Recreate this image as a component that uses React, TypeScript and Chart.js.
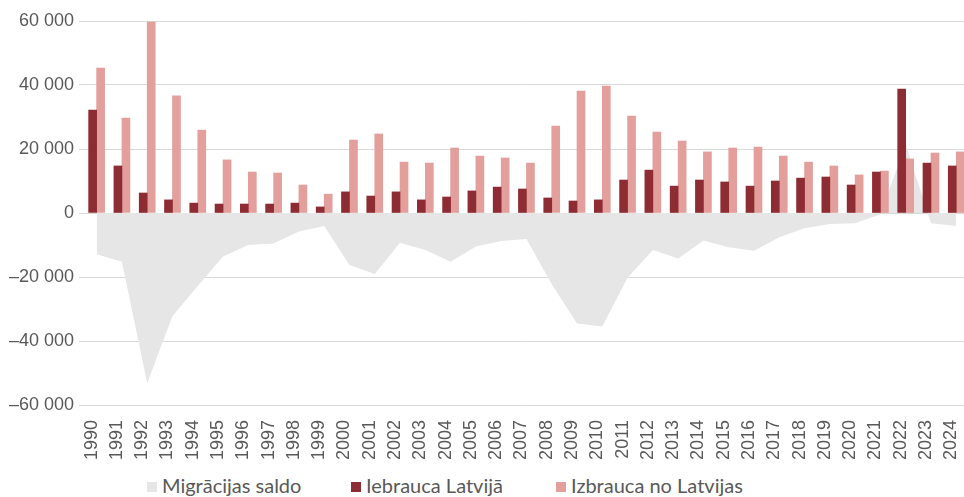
import React, { useEffect, useRef } from "react";
import { Chart, registerables } from "chart.js";

Chart.register(...registerables);

const years = [
  "1990", "1991", "1992", "1993", "1994", "1995", "1996", "1997", "1998", "1999",
  "2000", "2001", "2002", "2003", "2004", "2005", "2006", "2007", "2008", "2009",
  "2010", "2011", "2012", "2013", "2014", "2015", "2016", "2017", "2018", "2019",
  "2020", "2021", "2022", "2023", "2024",
];

const iebrauca = [
  32200, 14700, 6250, 4100, 3100, 2800, 2800, 2800, 3100, 1900,
  6600, 5300, 6600, 4100, 5000, 6900, 8100, 7500, 4700, 3750,
  4100, 10300, 13400, 8400, 10300, 9700, 8400, 10000, 10900, 11250,
  8750, 12800, 38750, 15600, 14700,
];

const izbrauca = [
  45300, 29700, 59700, 36600, 25900, 16600, 12800, 12500, 8750, 5900,
  22800, 24700, 15900, 15600, 20300, 17800, 17200, 15600, 27200, 38100,
  39700, 30300, 25300, 22500, 19100, 20300, 20600, 17800, 15900, 14700,
  11900, 13100, 16900, 18750, 19100,
];

const saldo = [
  -12900, -15200, -53200, -32200, -22800, -13600, -10000, -9500, -5800, -4100,
  -16250, -19100, -9300, -11600, -15200, -10500, -8750, -8100, -22300, -34500,
  -35500, -20200, -11600, -14200, -8600, -10700, -11800, -7600, -4800, -3400,
  -3200, -400, 21500, -3200, -4100,
];

const seriesNames = ["Migrācijas saldo", "Iebrauca Latvijā", "Izbrauca no Latvijas"];
const colors = ["#E6E6E6", "#8E2C33", "#E29F9C"];

const yMin = -60000;
const yMax = 60000;
const yStep = 20000;

function fmt(v: number): string {
  const abs = Math.abs(v);
  const s = String(abs).replace(/\B(?=(\d{3})+(?!\d))/g, " ");
  return v < 0 ? "\u2013" + s : s;
}

const TEXT = "#595959";
const GRID = "#D9D9D9";

export default function App() {
  const ref = useRef<HTMLCanvasElement | null>(null);

  useEffect(() => {
    if (!ref.current) return;
    const chart = new Chart(ref.current, {
      type: "bar",
      data: {
        labels: years,
        datasets: [
          {
            type: "line",
            label: seriesNames[0],
            data: saldo,
            backgroundColor: colors[0],
            borderColor: colors[0],
            borderWidth: 0,
            pointRadius: 0,
            fill: "origin",
            tension: 0,
            order: 3,
          } as any,
          {
            type: "bar",
            label: seriesNames[1],
            data: iebrauca,
            backgroundColor: colors[1],
            barThickness: 8,
            categoryPercentage: 0.71,
            order: 1,
          },
          {
            type: "bar",
            label: seriesNames[2],
            data: izbrauca,
            backgroundColor: colors[2],
            barThickness: 8,
            categoryPercentage: 0.71,
            order: 1,
          },
        ],
      },
      options: {
        animation: false,
        responsive: true,
        maintainAspectRatio: false,
        layout: { padding: { top: 21, right: 10, bottom: 0, left: 0 } },
        plugins: {
          legend: { display: false },
          tooltip: { enabled: false },
        },
        scales: {
          x: {
            grid: { display: false },
            border: { display: false },
            ticks: {
              autoSkip: false,
              maxRotation: 90,
              minRotation: 90,
              padding: 7,
              labelOffset: -5,
              color: TEXT,
              font: { family: "'Liberation Sans', Arial, sans-serif", size: 18 },
            },
            afterFit: (s: any) => {
              s.height = 55;
            },
          },
          y: {
            min: yMin,
            max: yMax,
            border: { display: false },
            grid: { color: GRID, lineWidth: 1, tickLength: 5, drawTicks: true },
            ticks: {
              stepSize: yStep,
              padding: 5,
              color: TEXT,
              font: { family: "'Liberation Sans', Arial, sans-serif", size: 18 },
              callback: (v: any) => fmt(Number(v)),
            },
            afterFit: (s: any) => {
              s.width = 84;
            },
          },
        },
      },
    });
    return () => chart.destroy();
  }, []);

  const legendLeft = [147, 351, 556];
  const legendFont = "Lato, 'Noto Sans', sans-serif";

  return (
    <div
      style={{
        position: "fixed",
        left: 0,
        top: 0,
        width: 964,
        height: 497,
        overflow: "hidden",
        background: "#fff",
      }}
    >
      <div style={{ position: "absolute", left: 0, top: 0, width: 985, height: 460 }}>
        <canvas ref={ref} />
      </div>
      {seriesNames.map((name, i) => (
        <div
          key={name}
          style={{
            position: "absolute",
            left: legendLeft[i],
            top: 473,
            height: 24,
            lineHeight: "24px",
            display: "flex",
            alignItems: "center",
            fontFamily: legendFont,
            fontSize: 20,
            color: TEXT,
            whiteSpace: "nowrap",
          }}
        >
          <span
            style={{
              display: "inline-block",
              width: 10,
              height: 10,
              background: colors[i],
              marginRight: 5,
              marginTop: 3,
            }}
          />
          <span>{name}</span>
        </div>
      ))}
    </div>
  );
}
